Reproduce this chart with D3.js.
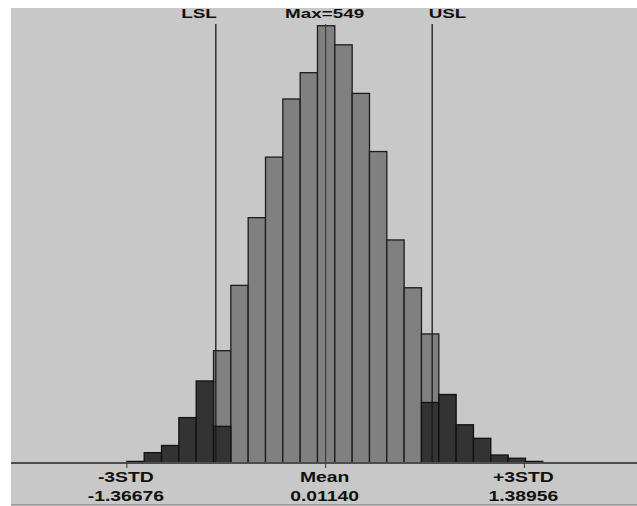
<!DOCTYPE html>
<html>
<head>
<meta charset="utf-8">
<script src="https://cdn.jsdelivr.net/npm/d3@7"></script>
<style>
  body { margin: 0; background: #fff; }
  svg { display: block; }
  text { font-family: "Liberation Sans", Arial, sans-serif; font-weight: bold; fill: #111; }
</style>
</head>
<body>
<svg width="637" height="506"></svg>
<script>
// histogram counts per bin
let counts = [2, 13, 22, 57, 103, 141, 223, 308, 384, 457, 490, 549, 525, 464, 391, 280, 220, 162, 86, 48, 31, 10, 6, 2];
// part of each bin that falls outside LSL / USL
let outCounts = [2, 13, 22, 57, 103, 46, 0, 0, 0, 0, 0, 0, 0, 0, 0, 0, 0, 76, 86, 48, 31, 10, 6, 2];
let binStart = -1.36676;
let binWidth = 0.12015;

let specNames = ['LSL', 'USL'];
let specValues = [-0.75, 0.75];
let statNames = ['-3STD', 'Mean', '+3STD'];
let statValues = [-1.36676, 0.01140, 1.38956];
let statLabels = ['-1.36676', '0.01140', '1.38956'];
let maxLabel = 'Max=549';

let svg = d3.select('svg');
let width = +svg.attr('width');
let height = +svg.attr('height');

let panel = {left: 11, top: 8, right: 637, bottom: 505};
let baseline = 463;

let xScale = d3.scaleLinear()
    .domain([-2.17, 2.17])
    .range([panel.left, panel.right]);

let yScale = d3.scaleLinear()
    .domain([0, d3.max(counts)])
    .range([baseline, 25.7]);

let bins = counts.map((c, i) => ({
    x0: binStart + i * binWidth,
    x1: binStart + (i + 1) * binWidth,
    total: c,
    out: outCounts[i]
}));

// background panel
svg.append('rect')
    .attr('x', panel.left)
    .attr('y', panel.top)
    .attr('width', panel.right - panel.left)
    .attr('height', panel.bottom - panel.top)
    .attr('fill', '#c8c8c8');

svg.append('line')
    .attr('x1', panel.left).attr('x2', panel.right)
    .attr('y1', panel.bottom).attr('y2', panel.bottom)
    .attr('stroke', '#6a6a6a').attr('stroke-width', 1);

// in-spec (grey) bars, full height
svg.append('g').selectAll('rect').data(bins.filter(d => d.total > d.out))
    .enter().append('rect')
    .attr('x', d => xScale(d.x0))
    .attr('y', d => yScale(d.total))
    .attr('width', d => xScale(d.x1) - xScale(d.x0))
    .attr('height', d => baseline - yScale(d.total))
    .attr('fill', '#808080')
    .attr('stroke', '#1c1c1c')
    .attr('stroke-width', 1.3);

// out-of-spec (dark) bars
svg.append('g').selectAll('rect').data(bins.filter(d => d.out > 0))
    .enter().append('rect')
    .attr('x', d => xScale(d.x0))
    .attr('y', d => yScale(d.out))
    .attr('width', d => xScale(d.x1) - xScale(d.x0))
    .attr('height', d => baseline - yScale(d.out))
    .attr('fill', '#333333')
    .attr('stroke', '#111')
    .attr('stroke-width', 1.3);

// spec limit lines and mean line
let lineTop = 24;
svg.append('g').selectAll('line').data(specValues)
    .enter().append('line')
    .attr('x1', d => xScale(d)).attr('x2', d => xScale(d))
    .attr('y1', lineTop).attr('y2', baseline)
    .attr('stroke', '#1a1a1a').attr('stroke-width', 1.3);

svg.append('line')
    .attr('x1', xScale(statValues[1])).attr('x2', xScale(statValues[1]))
    .attr('y1', lineTop).attr('y2', baseline)
    .attr('stroke', '#333').attr('stroke-width', 1);

// baseline
svg.append('line')
    .attr('x1', panel.left).attr('x2', panel.right)
    .attr('y1', baseline).attr('y2', baseline)
    .attr('stroke', '#4d4d4d').attr('stroke-width', 2);

// small ticks under the stats
svg.append('g').selectAll('line').data(statValues)
    .enter().append('line')
    .attr('x1', d => xScale(d)).attr('x2', d => xScale(d))
    .attr('y1', baseline).attr('y2', baseline + 5)
    .attr('stroke', '#333').attr('stroke-width', 1);

// top labels (text is drawn wide, like the original)
let topLab = (txt, x, anchor) => {
    svg.append('text')
        .attr('transform', `translate(${x},18.3) scale(1.45,1)`)
        .attr('text-anchor', anchor)
        .attr('font-size', 13)
        .text(txt);
};
topLab(specNames[0], xScale(specValues[0]) + 1, 'end');
topLab(specNames[1], xScale(specValues[1]) - 3.5, 'start');
topLab(maxLabel, xScale(statValues[1]) - 1, 'middle');

// bottom labels
statValues.forEach((v, i) => {
    svg.append('text')
        .attr('transform', `translate(${xScale(v) - 1},482.3) scale(1.29,1)`)
        .attr('text-anchor', 'middle')
        .attr('font-size', 15)
        .text(statNames[i]);
    svg.append('text')
        .attr('transform', `translate(${xScale(v) - 1},500.7) scale(1.29,1)`)
        .attr('text-anchor', 'middle')
        .attr('font-size', 15)
        .text(statLabels[i]);
});
</script>
</body>
</html>
